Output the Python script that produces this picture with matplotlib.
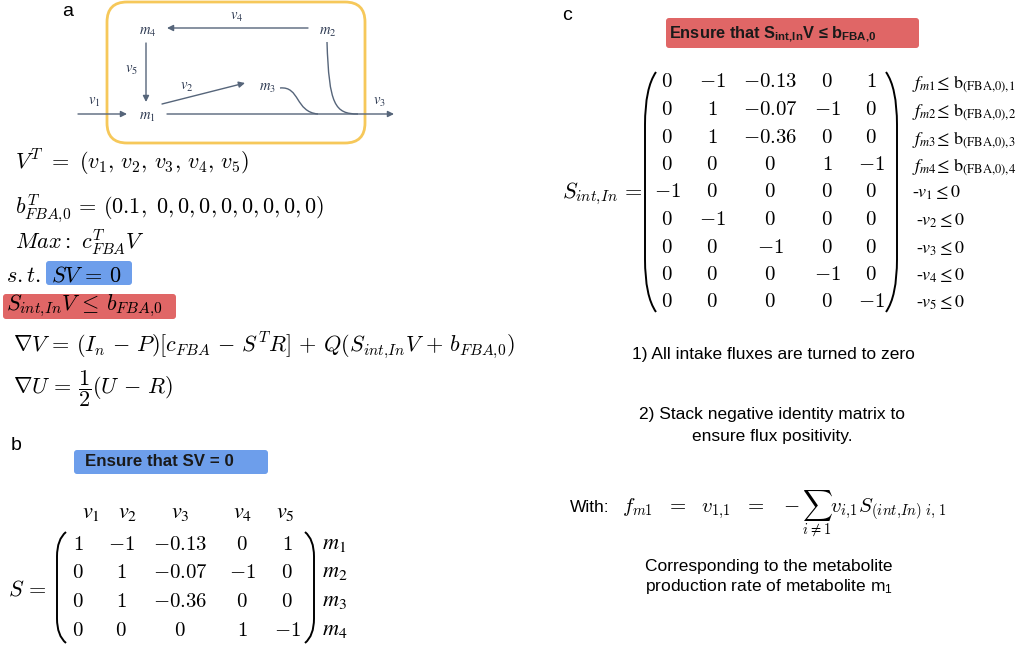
import matplotlib
matplotlib.use('Agg')
import matplotlib.pyplot as plt
from matplotlib.patches import FancyBboxPatch, PathPatch
from matplotlib.path import Path

plt.rcParams['mathtext.fontset'] = 'cm'
plt.rcParams['mathtext.rm'] = 'Liberation Sans'
plt.rcParams['mathtext.it'] = 'Liberation Sans:italic'
plt.rcParams['mathtext.bf'] = 'Liberation Sans:bold'
SANS = 'Liberation Sans'

# ---------------- data ----------------
flux_names = ['v_1', 'v_2', 'v_3', 'v_4', 'v_5']
metabolites = ['m_1', 'm_2', 'm_3', 'm_4']
S = [[1, -1, -0.13, 0, 1],
     [0, 1, -0.07, -1, 0],
     [0, 1, -0.36, 0, 0],
     [0, 0, 0, 1, -1]]
S_int_in = [[0, -1, -0.13, 0, 1],
            [0, 1, -0.07, -1, 0],
            [0, 1, -0.36, 0, 0],
            [0, 0, 0, 1, -1],
            [-1, 0, 0, 0, 0],
            [0, -1, 0, 0, 0],
            [0, 0, -1, 0, 0],
            [0, 0, 0, -1, 0],
            [0, 0, 0, 0, -1]]
b_fba0 = [0.1, 0, 0, 0, 0, 0, 0, 0, 0]
row_labels_c = [r'$f_{m1}\!\leq\,\mathrm{b}_{(\mathrm{FBA{,}0}){,}1}$',
                r'$f_{m2}\!\leq\,\mathrm{b}_{(\mathrm{FBA{,}0}){,}2}$',
                r'$f_{m3}\!\leq\,\mathrm{b}_{(\mathrm{FBA{,}0}){,}3}$',
                r'$f_{m4}\!\leq\,\mathrm{b}_{(\mathrm{FBA{,}0}){,}4}$',
                r'-$v_1\leq 0$', r'-$v_2\leq 0$', r'-$v_3\leq 0$',
                r'-$v_4\leq 0$', r'-$v_5\leq 0$']

BLUE = '#6d9eeb'
RED = '#e06666'
YELLOW = '#f6c85a'
ARROW = '#56657a'
NODE = '#2e3a52'

fig = plt.figure(figsize=(10.27, 6.47), dpi=100)
ax = fig.add_axes([0, 0, 1, 1])
ax.set_xlim(0, 1027)
ax.set_ylim(647, 0)
ax.axis('off')


def fmt(v):
    return '$%s$' % ('%g' % v)


def paren(x, top, bottom, side, w=9, lw=1.4):
    xo = x + w if side == 'l' else x - w
    h = bottom - top
    r = 0.22 * h
    verts = [(xo, top), (x, top + r * 0.3), (x, top + r),
             (x, bottom - r), (x, bottom - r * 0.3), (xo, bottom)]
    codes = [Path.MOVETO, Path.CURVE3, Path.CURVE3,
             Path.LINETO, Path.CURVE3, Path.CURVE3]
    ax.add_patch(PathPatch(Path(verts, codes), fill=False, lw=lw, color='black'))


def box(x, y, w, h, color):
    ax.add_patch(FancyBboxPatch((x, y), w, h, boxstyle='round,pad=0,rounding_size=3',
                                fc=color, ec='none', zorder=0))


# ---------------- panel labels ----------------
ax.text(62, 12, 'a', fontsize=14, family=SANS, ha='left', va='center')
ax.text(11, 446, 'b', fontsize=14, family=SANS, ha='left', va='center')
ax.text(562, 15, 'c', fontsize=14, family=SANS, ha='left', va='center')

# ---------------- panel a: network diagram ----------------
ax.add_patch(FancyBboxPatch((107, 2), 258, 141, boxstyle='round,pad=0,rounding_size=20',
                            fc='none', ec=YELLOW, lw=2))
nodes = {'m_4': (148, 32), 'm_2': (328, 32), 'm_1': (147, 117), 'm_3': (267, 88)}
for name, (x, y) in nodes.items():
    ax.text(x, y, '$%s$' % name, math_fontfamily='stix', fontsize=10.5, color=NODE,
            ha='center', va='center')
flux_pos = {'v_4': (237, 17), 'v_5': (131, 70), 'v_1': (94, 102), 'v_2': (187, 87), 'v_3': (379, 102)}
for name, (x, y) in flux_pos.items():
    ax.text(x, y, '$%s$' % name, math_fontfamily='stix', fontsize=10.5, color=NODE,
            ha='center', va='center')

aprops = dict(arrowstyle='-|>', color=ARROW, lw=1.0, mutation_scale=9, shrinkA=0, shrinkB=0)
ax.annotate('', xy=(167, 28), xytext=(308, 28), arrowprops=aprops)
ax.annotate('', xy=(146, 102), xytext=(146, 43), arrowprops=aprops)
ax.annotate('', xy=(127, 114), xytext=(78, 114), arrowprops=aprops)
ax.annotate('', xy=(245, 83), xytext=(162, 104), arrowprops=aprops)
ax.annotate('', xy=(394, 114), xytext=(167, 114), arrowprops=aprops)
c1 = Path([(280, 88), (300, 86), (295, 112), (318, 114)],
          [Path.MOVETO, Path.CURVE4, Path.CURVE4, Path.CURVE4])
c2 = Path([(327, 42), (329, 105), (335, 114), (358, 114)],
          [Path.MOVETO, Path.CURVE4, Path.CURVE4, Path.CURVE4])
for p in (c1, c2):
    ax.add_patch(PathPatch(p, fill=False, lw=1.0, color=ARROW))

# ---------------- panel a: equations ----------------
EQ = 16
ax.text(15, 170, r'$V^T\ =\ (' + ',\\, '.join(flux_names) + ')$', fontsize=EQ, va='baseline')
bstr = ('%g' % b_fba0[0]) + ',\\ ' + ','.join('%g' % v for v in b_fba0[1:])
ax.text(15, 214, r'$b^T_{FBA{,}0} \,=\, (' + bstr + ')$', fontsize=EQ, va='baseline')
ax.text(15, 249, r'$Max:\ c^T_{FBA}V$', fontsize=EQ, va='baseline')
box(46, 261, 86, 24, BLUE)
ax.text(6, 282, r'$s.t.\ SV\,=\,0$', fontsize=EQ, va='baseline')
box(3, 294, 173, 25, RED)
ax.text(6, 310, r'$S_{int{,}In}V\,\leq\, b_{FBA{,}0}$', fontsize=EQ, va='baseline')
ax.text(13, 352, r'$\nabla V \,=\, (I_n\,-\,P)[c_{FBA}\,-\,S^TR]\,+\,Q(S_{int{,}In}V\,+\,b_{FBA{,}0})$',
        fontsize=EQ, va='baseline')
ax.text(13, 393, r'$\nabla U \,=\, \dfrac{1}{2}(U\,-\,R)$', fontsize=EQ, va='baseline')

# ---------------- panel b ----------------
box(74, 450, 194, 24, BLUE)
ax.text(85, 462, 'Ensure that SV = 0', fontsize=12.2, family=SANS, weight='bold',
        va='center', ha='left', color='#1a1a1a')
colx_b = [78, 121, 180, 242, 287]
rowy_b = [550, 578, 607, 636]
for x, name in zip([91, 128, 180, 243, 285], flux_names):
    ax.text(x, 518, '$%s$' % name, math_fontfamily='stix', fontsize=16, ha='center', va='baseline')
for i, row in enumerate(S):
    for x, v in zip(colx_b, row):
        ax.text(x, rowy_b[i], fmt(v), fontsize=15, ha='center', va='baseline')
    ax.text(322, rowy_b[i] - 1, '$%s$' % metabolites[i], math_fontfamily='stix',
            fontsize=16, ha='left', va='baseline')
ax.text(8, 595, r'$S\,=$', fontsize=EQ, va='baseline')
paren(57, 532, 643, 'l')
paren(314, 532, 643, 'r')

# ---------------- panel c ----------------
box(666, 18, 253, 30, RED)
ax.text(669, 34, r'Ensure that S$_{\mathbf{int{,}In}}$V ≤ b$_{\mathbf{FBA{,}0}}$', fontsize=11.8,
        family=SANS, weight='bold', math_fontfamily='custom', va='center', ha='left',
        color='#1a1a1a')
colx_c = [667, 712, 770, 827, 871]
rowy_c = [87, 115, 143, 170, 197, 225, 253, 280, 307]
for i, row in enumerate(S_int_in):
    for x, v in zip(colx_c, row):
        ax.text(x, rowy_c[i], fmt(v), fontsize=15, ha='center', va='baseline')
for i, lab in enumerate(row_labels_c):
    xl = 912 if i < 5 else 916
    ax.text(xl, rowy_c[i] + 1, lab, math_fontfamily='stix', family='Liberation Serif',
            fontsize=13, ha='left', va='baseline')
ax.text(562, 198, r'$S_{int{,}In}\,=$', fontsize=EQ, va='baseline')
paren(645, 72, 312, 'l', w=11)
paren(897, 72, 312, 'r', w=11)

TX = 12.5
ax.text(773, 355, '1) All intake fluxes are turned to zero', fontsize=TX, family=SANS,
        ha='center', va='center')
ax.text(772, 415, '2) Stack negative identity matrix to', fontsize=TX, family=SANS,
        ha='center', va='center')
ax.text(772, 436, 'ensure flux positivity.', fontsize=TX, family=SANS,
        ha='center', va='center')
ax.text(570, 508, 'With:', fontsize=TX, family=SANS, ha='left', va='center')
ax.text(622, 513, r'$f_{m1}\ \ =\ \ v_{1{,}1}\ \ =\ \ -\sum_{i\neq 1}v_{i{,}1}S_{(int{,}In)\ i,\,1}$',
        fontsize=15, ha='left', va='baseline')
ax.text(769, 566, 'Corresponding to the metabolite', fontsize=TX, family=SANS,
        ha='center', va='center')
ax.text(769, 587, 'production rate of metabolite m$_1$', fontsize=TX, family=SANS,
        math_fontfamily='custom', ha='center', va='center')

fig.savefig('out.png', dpi=100)
